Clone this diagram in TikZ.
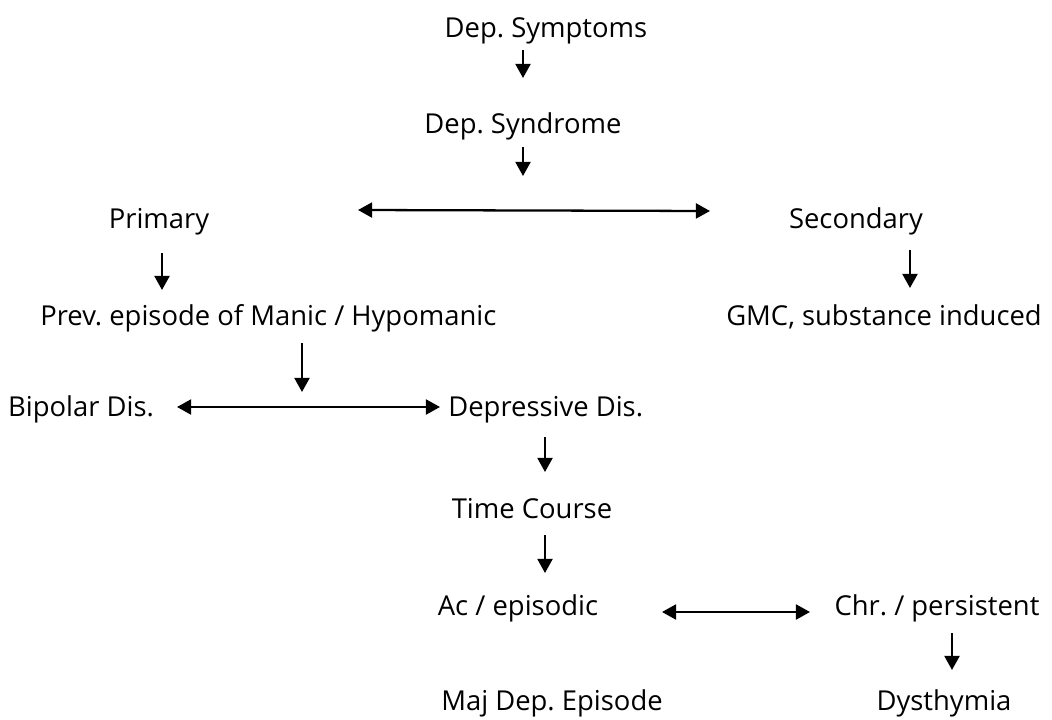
\documentclass[tikz,border=0pt]{standalone}
\usepackage{fontspec}
\setmainfont{Open Sans}
\usetikzlibrary{arrows.meta}
\frenchspacing
\tikzset{
	item/.style={inner sep=0pt, anchor=base, font=\fontsize{15.6}{18}\selectfont},
	flow/.style={line width=1.3pt, -{Triangle[width=8.5pt,length=8pt]}},
	both/.style={line width=1.3pt, {Triangle[width=8.5pt,length=8pt]}-{Triangle[width=8.5pt,length=8pt]}}
}
\begin{document}
\begin{tikzpicture}[x=0.02cm,y=-0.02cm]
	\useasboundingbox (0,0) rectangle (1052,720);
	% labels (placed on their baselines)
	\node[item] (symp) at (546,37) {Dep. Symptoms};
	\node[item] (synd) at (523,133) {Dep. Syndrome};
	\node[item] (prim) at (159,228) {Primary};
	\node[item] (sec) at (856,228) {Secondary};
	\node[item, anchor=base west] (prev) at (40,325) {Prev. episode of Manic / Hypomanic};
	\node[item] (gmc) at (884,325) {GMC, substance induced};
	\node[item] (bip) at (81,416) {Bipolar Dis.};
	\node[item, anchor=base west] (dep) at (448,416) {Depressive Dis.};
	\node[item] (time) at (532,518) {Time Course};
	\node[item] (ac) at (518,615) {Ac / episodic};
	\node[item] (chr) at (937,615) {Chr. / persistent};
	\node[item] (maj) at (552,710) {Maj Dep. Episode};
	\node[item] (dys) at (944,710) {Dysthymia};
	% arrow ends
	\coordinate (a1) at (523,50);  \coordinate (b1) at (523,78);
	\coordinate (a2) at (523,147); \coordinate (b2) at (523,176);
	\coordinate (l1) at (358,210); \coordinate (r1) at (710,211);
	\coordinate (a3) at (162,253); \coordinate (b3) at (162,290);
	\coordinate (a4) at (910,250); \coordinate (b4) at (910,288);
	\coordinate (a5) at (302,343); \coordinate (b5) at (302,392);
	\coordinate (l2) at (177,407); \coordinate (r2) at (440,407);
	\coordinate (a6) at (545,437); \coordinate (b6) at (545,472);
	\coordinate (a7) at (545,535); \coordinate (b7) at (545,573);
	\coordinate (l3) at (662,612); \coordinate (r3) at (810,612);
	\coordinate (a8) at (952,633); \coordinate (b8) at (952,670);
	% connectors
	\draw[flow] (a1) -- (b1);
	\draw[flow] (a2) -- (b2);
	\draw[both] (l1) -- (r1);
	\draw[flow] (a3) -- (b3);
	\draw[flow] (a4) -- (b4);
	\draw[flow] (a5) -- (b5);
	\draw[both] (l2) -- (r2);
	\draw[flow] (a6) -- (b6);
	\draw[flow] (a7) -- (b7);
	\draw[both] (l3) -- (r3);
	\draw[flow] (a8) -- (b8);
\end{tikzpicture}
\end{document}
